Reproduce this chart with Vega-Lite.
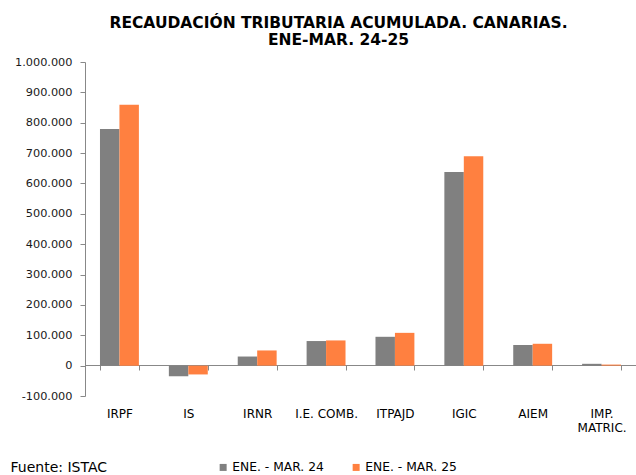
{
  "$schema": "https://vega.github.io/schema/vega-lite/v6.json",
  "width": 551,
  "height": 334,
  "autosize": "none",
  "padding": {"left": 85, "top": 62, "right": 0, "bottom": 79},
  "background": "white",
  "config": {
    "locale": {"number": {"decimal": ",", "thousands": ".", "grouping": [3], "currency": ["", " €"], "minus": "-"}},
    "font": "DejaVu Sans",
    "view": {"stroke": null},
    "axisY": {"labelOverlap": false}
  },
  "title": {
    "text": ["RECAUDACIÓN TRIBUTARIA ACUMULADA. CANARIAS.", "ENE-MAR. 24-25"],
    "fontSize": 15.5,
    "fontWeight": "bold",
    "font": "DejaVu Sans",
    "color": "#000000",
    "lineHeight": 17,
    "dx": -22,
    "offset": 8
  },
  "data": {
    "values": [
      {"impuesto": "IRPF", "periodo": "ENE. - MAR. 24", "valor": 779000},
      {"impuesto": "IRPF", "periodo": "ENE. - MAR. 25", "valor": 859000},
      {"impuesto": "IS", "periodo": "ENE. - MAR. 24", "valor": -35000},
      {"impuesto": "IS", "periodo": "ENE. - MAR. 25", "valor": -29000},
      {"impuesto": "IRNR", "periodo": "ENE. - MAR. 24", "valor": 30000},
      {"impuesto": "IRNR", "periodo": "ENE. - MAR. 25", "valor": 50000},
      {"impuesto": "I.E. COMB.", "periodo": "ENE. - MAR. 24", "valor": 81000},
      {"impuesto": "I.E. COMB.", "periodo": "ENE. - MAR. 25", "valor": 83000},
      {"impuesto": "ITPAJD", "periodo": "ENE. - MAR. 24", "valor": 95000},
      {"impuesto": "ITPAJD", "periodo": "ENE. - MAR. 25", "valor": 108000},
      {"impuesto": "IGIC", "periodo": "ENE. - MAR. 24", "valor": 638000},
      {"impuesto": "IGIC", "periodo": "ENE. - MAR. 25", "valor": 690000},
      {"impuesto": "AIEM", "periodo": "ENE. - MAR. 24", "valor": 68000},
      {"impuesto": "AIEM", "periodo": "ENE. - MAR. 25", "valor": 72000},
      {"impuesto": "IMP. MATRIC.", "periodo": "ENE. - MAR. 24", "valor": 6000},
      {"impuesto": "IMP. MATRIC.", "periodo": "ENE. - MAR. 25", "valor": 3500}
    ]
  },
  "mark": {"type": "bar"},
  "encoding": {
    "x": {
      "field": "impuesto",
      "type": "nominal",
      "sort": null,
      "scale": {"paddingInner": 0.435, "paddingOuter": 0.2175},
      "axis": {
        "title": "Fuente: ISTAC",
        "titleX": -75,
        "titleY": 102,
        "titleAnchor": "start",
        "titleAlign": "left",
        "titleBaseline": "middle",
        "titleFontWeight": "normal",
        "titleFontSize": 14,
        "titleColor": "#000000",
        "titleFont": "DejaVu Sans",
        "offset": -31,
        "labelAngle": 0,
        "labelFontSize": 12,
        "labelColor": "#000000",
        "labelPadding": 38,
        "labelOverlap": false,
        "labelExpr": "datum.label == 'IMP. MATRIC.' ? ['IMP.', 'MATRIC.'] : datum.label",
        "domain": true,
        "domainColor": "#888888",
        "ticks": true,
        "tickBand": "extent",
        "tickColor": "#888888",
        "tickSize": 5
      }
    },
    "xOffset": {"field": "periodo", "type": "nominal", "scale": {"paddingInner": 0, "paddingOuter": 0}},
    "y": {
      "field": "valor",
      "type": "quantitative",
      "scale": {"domain": [-100000, 1000000], "nice": false, "zero": false},
      "axis": {
        "title": null,
        "values": [-100000, 0, 100000, 200000, 300000, 400000, 500000, 600000, 700000, 800000, 900000, 1000000],
        "tickCount": 12,
        "format": ",d",
        "grid": false,
        "labelOverlap": false,
        "labelFlush": false,
        "labelBound": false,
        "domainColor": "#888888",
        "tickColor": "#888888",
        "tickSize": 5,
        "labelFontSize": 11.3,
        "labelColor": "#1a1a1a",
        "labelPadding": 8
      }
    },
    "color": {
      "field": "periodo",
      "type": "nominal",
      "scale": {"domain": ["ENE. - MAR. 24", "ENE. - MAR. 25"], "range": ["#808080", "#FF8040"]},
      "legend": {
        "title": null,
        "orient": "none",
        "direction": "horizontal",
        "legendX": 132,
        "legendY": 399,
        "symbolType": "square",
        "symbolSize": 49,
        "symbolStrokeWidth": 0,
        "symbolOpacity": 1,
        "labelFontSize": 12.3,
        "labelColor": "#000000",
        "labelOffset": 3,
        "columnPadding": 26
      }
    }
  }
}
